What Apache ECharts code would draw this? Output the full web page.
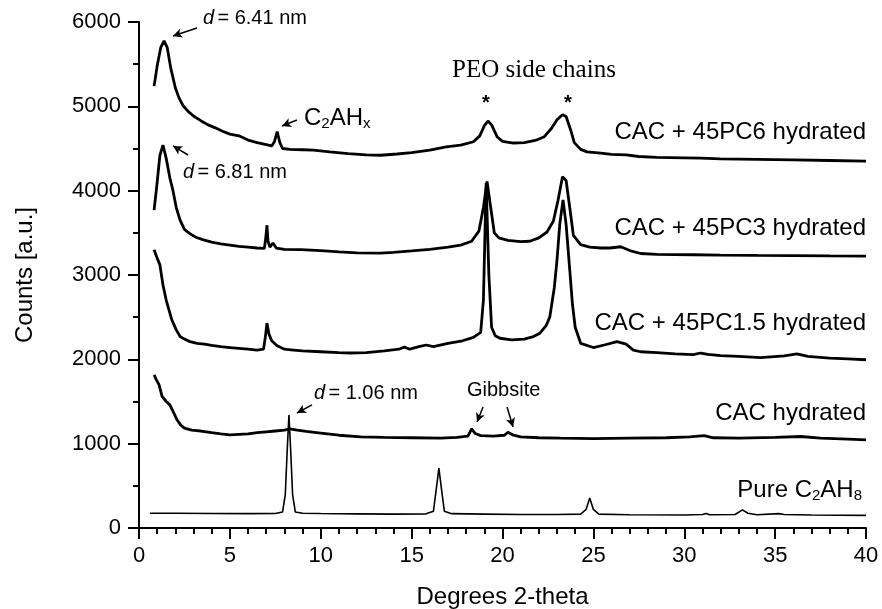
<!DOCTYPE html>
<html>
<head>
<meta charset="utf-8">
<script src="https://cdn.jsdelivr.net/npm/echarts@6/dist/echarts.min.js"></script>
<style>
  html, body { margin: 0; padding: 0; background: #fff; }
  #chart { width: 882px; height: 609px; }
</style>
</head>
<body>
<div id="chart"></div>
<script>
// curve values, [2-theta, counts]
var pc6 = [
  [0.83,5240],[1.0,5480],[1.2,5700],[1.38,5775],[1.55,5700],[1.75,5450],[2.0,5220],[2.2,5100],
  [2.42,5010],[2.7,4940],[3.0,4885],[3.4,4830],[3.8,4780],[4.2,4745],[4.6,4705],[5.0,4670],
  [5.5,4650],[6.0,4600],[6.5,4570],[7.0,4545],[7.3,4530],[7.45,4580],[7.6,4700],[7.75,4570],
  [7.9,4500],[8.3,4490],[9.0,4485],[9.6,4480],[10.5,4460],[11.5,4440],[12.5,4425],[13.3,4420],
  [14.2,4435],[15.0,4450],[16.0,4480],[16.9,4520],[17.7,4540],[18.4,4580],[18.75,4650],[19.0,4770],
  [19.2,4825],[19.4,4780],[19.7,4640],[20.0,4585],[20.6,4565],[21.2,4570],[21.8,4595],[22.3,4640],
  [22.7,4740],[23.0,4840],[23.3,4900],[23.5,4880],[23.75,4720],[23.95,4570],[24.3,4490],[24.65,4460],
  [25.4,4445],[26.0,4430],[26.8,4425],[27.5,4405],[28.5,4395],[30.0,4390],[30.9,4385],[32.0,4378],
  [34.0,4372],[36.0,4365],[38.0,4358],[40.0,4350]
];
var pc3 = [
  [0.83,3770],[1.0,4100],[1.15,4420],[1.32,4540],[1.5,4380],[1.7,4150],[1.87,4000],[2.05,3800],
  [2.26,3650],[2.5,3540],[2.8,3490],[3.1,3450],[3.5,3420],[4.0,3390],[4.5,3370],[5.0,3355],
  [5.5,3340],[6.0,3330],[6.5,3320],[6.9,3315],[6.98,3450],[7.04,3590],[7.1,3400],[7.2,3330],
  [7.37,3380],[7.55,3320],[8.0,3305],[8.9,3300],[10.0,3290],[11.0,3275],[12.0,3262],[13.3,3260],
  [14.0,3268],[15.0,3285],[16.0,3305],[17.0,3330],[17.7,3355],[18.3,3400],[18.7,3520],[18.95,3800],
  [19.15,4110],[19.35,3800],[19.55,3500],[19.8,3440],[20.3,3410],[21.0,3395],[21.5,3400],[22.0,3440],
  [22.45,3510],[22.8,3640],[23.05,3880],[23.3,4165],[23.5,4120],[23.7,3800],[23.9,3470],[24.3,3360],
  [24.8,3330],[25.4,3320],[25.9,3320],[26.5,3335],[27.0,3290],[27.6,3255],[28.5,3245],[30.5,3240],
  [32.0,3236],[34.0,3232],[36.0,3230],[38.0,3226],[40.0,3225]
];
var pc15 = [
  [0.83,3300],[1.0,3200],[1.15,3120],[1.32,2880],[1.5,2700],[1.8,2470],[2.05,2350],[2.26,2270],
  [2.5,2240],[2.8,2210],[3.2,2190],[3.6,2180],[4.0,2165],[4.5,2150],[5.0,2140],[5.5,2130],
  [6.0,2120],[6.5,2110],[6.85,2120],[6.95,2260],[7.04,2430],[7.15,2300],[7.3,2220],[7.6,2160],
  [8.0,2120],[8.5,2110],[9.0,2100],[10.0,2090],[11.0,2080],[11.6,2075],[12.5,2080],[13.5,2100],
  [14.3,2120],[14.6,2145],[14.9,2120],[15.4,2150],[15.8,2170],[16.2,2150],[17.0,2190],[17.8,2220],
  [18.4,2260],[18.8,2320],[18.95,2700],[19.1,4090],[19.25,3000],[19.4,2380],[19.6,2280],[19.86,2250],
  [20.5,2230],[21.2,2240],[21.7,2270],[22.06,2310],[22.4,2400],[22.6,2500],[22.85,2850],[23.0,3180],
  [23.15,3600],[23.33,3890],[23.5,3600],[23.7,3060],[23.85,2650],[24.0,2380],[24.3,2190],[25.0,2140],
  [25.6,2170],[26.3,2210],[26.8,2180],[27.2,2110],[27.6,2090],[28.5,2080],[29.5,2065],[30.5,2055],
  [30.9,2075],[31.3,2058],[32.0,2045],[33.0,2035],[34.2,2020],[35.5,2040],[36.2,2065],[36.8,2035],
  [38.0,2015],[39.0,2005],[40.0,1995]
];
var cac = [
  [0.83,1815],[0.95,1760],[1.1,1700],[1.27,1560],[1.5,1500],[1.7,1460],[1.9,1370],[2.1,1280],
  [2.3,1220],[2.5,1185],[2.9,1160],[3.4,1150],[4.0,1130],[4.5,1115],[5.0,1105],[5.5,1110],
  [6.0,1115],[6.5,1130],[7.0,1140],[7.5,1150],[8.0,1160],[8.3,1175],[8.7,1160],[9.2,1145],
  [10.0,1125],[11.0,1100],[12.2,1080],[13.5,1075],[15.0,1070],[16.6,1065],[17.5,1075],[18.1,1090],
  [18.3,1175],[18.5,1120],[18.8,1095],[19.5,1090],[20.1,1100],[20.3,1135],[20.6,1100],[21.0,1080],
  [22.0,1070],[23.2,1065],[25.0,1060],[27.0,1065],[29.0,1070],[30.3,1080],[31.1,1095],[31.6,1070],
  [33.0,1065],[35.0,1075],[36.4,1085],[37.5,1065],[39.0,1055],[40.0,1045]
];
var pureC2AH8 = [
  [0.6,175],[2.0,175],[4.0,172],[6.0,170],[7.5,172],[7.9,190],[8.05,400],[8.15,900],
  [8.25,1340],[8.35,900],[8.45,400],[8.6,190],[9.0,175],[10.0,172],[12.0,168],[14.0,165],
  [15.8,168],[16.2,200],[16.35,450],[16.5,710],[16.65,450],[16.8,200],[17.2,170],[19.0,165],
  [21.0,160],[23.0,160],[24.3,165],[24.6,220],[24.8,355],[25.0,220],[25.3,165],[27.0,158],
  [30.0,155],[31.0,160],[31.2,172],[31.4,158],[32.8,160],[33.2,215],[33.5,175],[34.0,158],
  [35.2,170],[35.5,160],[37.0,155],[40.0,150]
];

// annotation arrows, from text to peak
var arrows641 = [[3.19,5929],[1.87,5834]];
var arrowsC2AHx = [[8.69,4838],[7.87,4767]];
var arrows681 = [[2.70,4423],[1.87,4530]];
var arrows106 = [[9.52,1459],[8.69,1364]];
var arrowsGibb1 = [[18.93,1435],[18.6,1257]];
var arrowsGibb2 = [[20.25,1435],[20.58,1198]];

function arrowLines(list) {
  return {
    silent: true,
    animation: false,
    symbol: ['none', 'arrow'],
    symbolSize: [7, 9],
    label: { show: false },
    lineStyle: { color: '#000', width: 1.5, type: 'solid' },
    data: list.map(function (a) {
      return [{ coord: a[0] }, { coord: a[1] }];
    })
  };
}

function curve(name, data, width, marks) {
  var s = {
    name: name,
    type: 'line',
    data: data,
    showSymbol: false,
    symbol: 'none',
    lineStyle: { color: '#000', width: width },
    itemStyle: { color: '#000' }
  };
  if (marks) s.markLine = arrowLines(marks);
  return s;
}

var font = 'Liberation Sans, Arial, sans-serif';
var subRich = {
  n: { fontSize: 24, fontFamily: font, color: '#000', lineHeight: 28 },
  s: { fontSize: 15, fontFamily: font, color: '#000', lineHeight: 28, padding: [10, 0, 0, 0] }
};
var annRich = {
  i: { fontSize: 20, fontFamily: font, fontStyle: 'italic', color: '#000' },
  n: { fontSize: 20, fontFamily: font, color: '#000' }
};

var chart = echarts.init(document.getElementById('chart'));
chart.setOption({
  animation: false,
  backgroundColor: '#fff',
  grid: { left: 139, right: 16, top: 22, bottom: 81, outerBoundsMode: 'none', containLabel: false },
  xAxis: {
    type: 'value',
    min: 0, max: 40, interval: 5,
    name: 'Degrees 2-theta',
    nameLocation: 'middle',
    nameGap: 57,
    nameTextStyle: { fontFamily: font, fontSize: 24, color: '#000' },
    axisLine: { lineStyle: { color: '#000', width: 2 } },
    axisTick: { length: 11, lineStyle: { color: '#000', width: 2 } },
    minorTick: { show: true, splitNumber: 5, length: 6, lineStyle: { color: '#000', width: 2 } },
    axisLabel: { fontFamily: font, fontSize: 22, color: '#000', margin: 17 },
    splitLine: { show: false }
  },
  yAxis: {
    type: 'value',
    min: 0, max: 6000, interval: 1000,
    name: 'Counts [a.u.]',
    nameLocation: 'middle',
    nameGap: 102,
    nameTextStyle: { fontFamily: font, fontSize: 24, color: '#000' },
    axisLine: { show: true, lineStyle: { color: '#000', width: 2 } },
    axisTick: { show: true, length: 11, lineStyle: { color: '#000', width: 2 } },
    minorTick: { show: true, splitNumber: 2, length: 6, lineStyle: { color: '#000', width: 2 } },
    axisLabel: {
      fontFamily: font, fontSize: 22, color: '#000', margin: 18,
      formatter: function (v) { return String(v); }
    },
    splitLine: { show: false }
  },
  series: [
    curve('CAC + 45PC6 hydrated', pc6, 2.8, [arrows641, arrowsC2AHx]),
    curve('CAC + 45PC3 hydrated', pc3, 2.8, [arrows681]),
    curve('CAC + 45PC1.5 hydrated', pc15, 2.8),
    curve('CAC hydrated', cac, 2.8, [arrows106, arrowsGibb1, arrowsGibb2]),
    curve('Pure C2AH8', pureC2AH8, 1.6)
  ],
  graphic: [
    { type: 'text', left: 203, top: 8, style: { text: '{i|d} {n|= 6.41 nm}', rich: annRich } },
    { type: 'text', left: 183, top: 162, style: { text: '{i|d} {n|= 6.81 nm}', rich: annRich } },
    { type: 'text', left: 314, top: 383, style: { text: '{i|d} {n|= 1.06 nm}', rich: annRich } },
    { type: 'text', left: 467, top: 380, style: { text: 'Gibbsite', font: '20px ' + font, fill: '#000' } },
    { type: 'text', left: 304, top: 106, style: { text: '{n|C}{s|2}{n|AH}{s|x}', rich: subRich } },
    { type: 'text', left: 452, top: 58, style: { text: 'PEO side chains', font: '25px Liberation Serif, Times New Roman, serif', fill: '#000' } },
    { type: 'text', left: 482, top: 93, style: { text: '*', font: 'bold 20px ' + font, fill: '#000' } },
    { type: 'text', left: 564, top: 93, style: { text: '*', font: 'bold 20px ' + font, fill: '#000' } },
    { type: 'text', right: 16, top: 120, style: { text: 'CAC + 45PC6 hydrated', font: '24px ' + font, fill: '#000' } },
    { type: 'text', right: 16, top: 216, style: { text: 'CAC + 45PC3 hydrated', font: '24px ' + font, fill: '#000' } },
    { type: 'text', right: 16, top: 311, style: { text: 'CAC + 45PC1.5 hydrated', font: '24px ' + font, fill: '#000' } },
    { type: 'text', right: 16, top: 401, style: { text: 'CAC hydrated', font: '24px ' + font, fill: '#000' } },
    { type: 'text', right: 20, top: 478, style: { text: '{n|Pure C}{s|2}{n|AH}{s|8}', rich: subRich } }
  ]
});
</script>
</body>
</html>
